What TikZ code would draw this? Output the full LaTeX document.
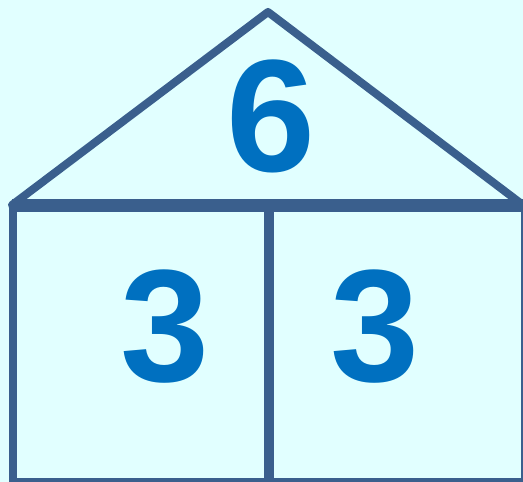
\documentclass[tikz,border=0pt]{standalone}
\usepackage{fontspec}
\setmainfont{Liberation Sans}
\definecolor{HouseLine}{HTML}{3A5F8D}
\definecolor{HouseFill}{HTML}{E1FFFF}
\definecolor{NumBlue}{HTML}{0070C0}

\begin{document}
\begin{tikzpicture}[x=1pt,y=-1pt,
  houseline/.style={draw=HouseLine,line cap=round,line join=round},
  numtext/.style={inner sep=0pt,text=NumBlue,font=\fontsize{160}{160}\selectfont\bfseries}]
  \fill[HouseFill] (0,0) rectangle (523,482);
  \useasboundingbox (0,0) rectangle (523,482);
  % corners of the house
  \coordinate (apex) at (268,12);
  \coordinate (eaveL) at (12,205);
  \coordinate (eaveR) at (523,205);
  \coordinate (baseL) at (13,482);
  \coordinate (baseR) at (525,482);
  \coordinate (midT) at (269,205);
  \coordinate (midB) at (269,482);
  % roof and floor
  \draw[houseline,line width=8pt] (eaveL) -- (apex) -- (eaveR);
  \draw[houseline,line width=13pt,line cap=butt] (eaveL) -- (eaveR);
  % walls
  \draw[houseline,line width=8pt] (baseL |- eaveL) -- (baseL) -- (baseR) -- (baseR |- eaveR);
  \draw[houseline,line width=10pt,line cap=butt] (midT) -- (midB);
  % numbers
  \node[numtext] (total) at (271,116) {6};
  \node[numtext] (partL) at (165,327) {3};
  \node[numtext] (partR) at (375,327) {3};
\end{tikzpicture}
\end{document}
